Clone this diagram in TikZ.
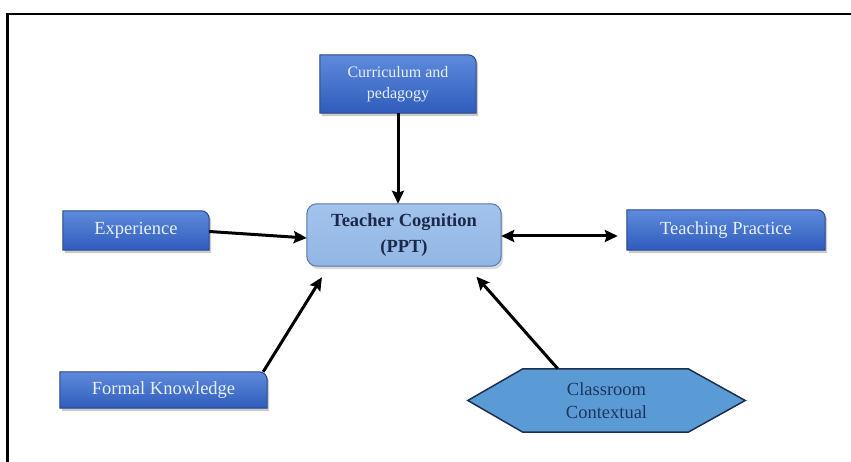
\documentclass[tikz,border=0pt]{standalone}
\usepackage{fontspec}
\setmainfont{Liberation Serif}
\usetikzlibrary{arrows.meta,calc,backgrounds}
\definecolor{bbtop}{HTML}{5E8BDB}
\definecolor{bbbot}{HTML}{2F5CBC}
\definecolor{bbord}{HTML}{27468A}
\definecolor{bbtext}{HTML}{E8EFFB}
\definecolor{tcfill}{HTML}{A3C3EC}
\definecolor{tcfill2}{HTML}{92B6E4}
\definecolor{tcbord}{HTML}{5677AE}
\definecolor{tctext}{HTML}{1B2A4A}
\definecolor{hexfill}{HTML}{5B9BD5}
\definecolor{hexbord}{HTML}{1F2F4F}
\definecolor{hextext}{HTML}{1F3560}
\newcommand{\bbshape}[1]{%
  \fill[black!45,opacity=0.45] ([xshift=2pt,yshift=-3pt]#1.south west) -- ([xshift=2pt,yshift=-3pt]#1.north west) -- ([xshift=-6pt,yshift=-3pt]#1.north east) arc[start angle=90,end angle=0,radius=8pt] -- ([xshift=2pt,yshift=-3pt]#1.south east) -- cycle;
  \path[top color=bbtop,bottom color=bbbot,draw=bbord,line width=1pt] (#1.south west) -- (#1.north west) -- ([xshift=-8pt]#1.north east) arc[start angle=90,end angle=0,radius=8pt] -- (#1.south east) -- cycle;
}
\tikzset{
  bbox/.style={inner sep=2pt,text=bbtext,align=center,font=\fontsize{18.5}{22}\selectfont},
  conn/.style={line width=3pt,-{Stealth[length=13pt,width=12pt,inset=2pt]}},
  dconn/.style={line width=3pt,{Stealth[length=13pt,width=12pt,inset=2pt]}-{Stealth[length=13pt,width=12pt,inset=2pt]}}
}
\begin{document}
\begin{tikzpicture}[x=1pt,y=1pt]
\useasboundingbox (0,0) rectangle (851,462);

% nodes
\node[bbox,minimum width=156pt,minimum height=58pt,font=\fontsize{16}{21}\selectfont] (cur) at (398,378) {Curriculum and\\pedagogy};
\node[bbox,minimum width=146pt,minimum height=39pt] (exp) at (136,231.5) {Experience};
\node[bbox,minimum width=198pt,minimum height=40pt] (tp) at (726,232) {Teaching Practice};
\node[bbox,minimum width=207pt,minimum height=36pt] (fk) at (163.5,72) {Formal Knowledge};
\node[minimum width=194pt,minimum height=62pt,align=center,text=tctext,font=\bfseries\fontsize{18.5}{26}\selectfont] (tc) at (404,227) {Teacher Cognition\\(PPT)};
\node[minimum width=277pt,minimum height=63pt,align=center,text=hextext,font=\fontsize{18.5}{23}\selectfont] (hex) at (606.5,61.5) {Classroom\\Contextual};

\begin{pgfonlayer}{background}
  \fill[white] (0,0) rectangle (851,462);
  \bbshape{cur}
  \bbshape{exp}
  \bbshape{tp}
  \bbshape{fk}
  \fill[black!40,opacity=0.35,rounded corners=10pt] ([xshift=2pt,yshift=-3pt]tc.south west) rectangle ([xshift=2pt,yshift=-3pt]tc.north east);
  \path[top color=tcfill,bottom color=tcfill2,draw=tcbord,line width=1pt,rounded corners=10pt] (tc.south west) rectangle (tc.north east);
  \path[fill=hexfill,draw=hexbord,line width=1.5pt] (hex.west) -- ([xshift=55pt]hex.north west) -- ([xshift=-57pt]hex.north east) -- (hex.east) -- ([xshift=-57pt]hex.south east) -- ([xshift=55pt]hex.south west) -- cycle;
\end{pgfonlayer}

\draw[line width=2.6pt] (852,448) -- (7.5,448) -- (7.5,-1);

% connectors
\draw[conn] (cur.south) -- ([xshift=-6pt]tc.north);
\draw[conn] ([yshift=-1pt]exp.east) -- ([yshift=-3pt]tc.west);
\draw[dconn,shorten >=9pt] ([yshift=-1pt]tc.east) -- ([yshift=-6pt]tp.west);
\draw[conn,shorten >=13pt] ([xshift=-4pt]fk.north east) -- ([xshift=22pt]tc.south west);
\draw[conn,shorten >=14pt] ([xshift=90pt]hex.north west) -- ([xshift=-34pt]tc.south east);
\end{tikzpicture}
\end{document}
